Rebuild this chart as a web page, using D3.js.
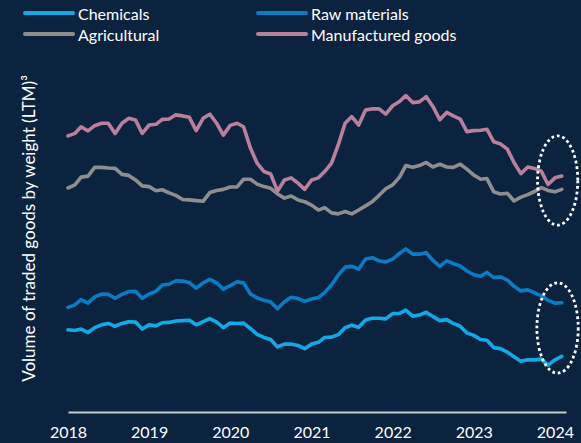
<!DOCTYPE html>
<html>
<head>
<meta charset="utf-8">
<script src="https://cdn.jsdelivr.net/npm/d3@7"></script>
<style>
  html, body { margin: 0; padding: 0; background: #0c2340; }
  svg { display: block; }
  text { font-family: Lato, "Open Sans", sans-serif; fill: #ffffff; }
</style>
</head>
<body>
<svg id="chart" width="581" height="443"></svg>
<script>
// ---- Data (monthly, Jan 2018 – Feb 2024), index units ----
const startMonth = "2018-01";
const chemicals = [23.5,23.3,23.7,22.7,24.1,24.9,25.3,24.5,25.3,25.8,25.7,23.7,
  24.9,24.6,25.5,25.6,26.0,26.1,26.2,24.9,25.8,26.7,25.7,24.1,
  25.4,25.3,25.4,23.8,22.2,21.3,20.7,18.6,19.4,19.4,19.0,18.1,
  19.4,19.9,21.3,21.4,22.1,24.1,24.8,24.2,26.3,26.8,26.8,26.6,
  28.1,28.2,29.1,27.4,27.7,28.5,27.3,26.1,26.4,25.3,24.5,22.6,
  21.9,20.7,20.5,18.4,18.1,17.1,15.8,14.5,14.9,14.9,15.1,13.4,
  14.9,15.9];
const rawMaterials = [29.9,30.6,32.1,31.1,32.9,33.7,33.6,32.5,33.6,34.4,34.5,32.5,
  33.7,34.5,36.3,36.5,37.5,37.4,36.9,35.4,36.9,37.9,36.9,35.1,
  36.1,37.2,36.9,33.7,32.6,31.9,31.4,29.5,31.5,32.8,32.4,31.6,
  32.3,32.7,34.1,36.3,39.1,41.4,41.6,40.8,43.7,44.1,43.2,42.9,
  43.7,45.3,46.6,45.1,45.1,45.5,43.3,41.6,43.2,42.4,41.7,40.3,
  39.2,38.8,39.9,38.4,38.6,37.7,35.9,34.6,34.9,34.1,33.2,31.9,
  31.1,31.2];
const agricultural = [64.0,64.9,67.1,67.4,69.9,69.9,69.7,69.6,67.9,67.6,66.3,64.6,
  64.4,63.2,63.5,62.6,61.9,60.7,60.6,60.4,60.2,62.7,63.3,63.6,
  64.3,64.3,66.5,66.5,65.1,64.4,63.9,62.3,61.1,61.7,60.6,60.1,
  59.1,57.7,58.4,56.9,56.6,57.3,56.6,57.7,58.9,60.1,61.9,63.8,
  64.9,67.1,70.4,69.9,70.4,71.3,70.0,70.8,70.0,69.9,70.8,69.4,
  67.7,66.5,66.7,62.9,62.3,62.5,60.3,61.4,62.1,63.0,64.1,63.3,
  62.9,63.6];
const manufactured = [78.9,79.6,81.5,80.3,81.8,82.5,82.5,79.6,82.5,83.9,83.4,79.6,
  82.0,82.2,83.6,83.7,84.9,84.6,84.2,80.4,83.9,85.1,82.5,79.1,
  81.9,82.5,81.5,75.4,71.1,68.7,68.0,63.1,66.3,66.9,65.4,63.6,
  66.3,66.9,68.7,71.1,76.3,82.5,84.4,82.0,86.3,86.6,86.6,85.1,
  87.5,88.7,90.4,88.4,88.6,90.1,87.3,83.5,85.6,84.6,83.7,80.1,
  80.4,80.5,80.8,77.2,76.6,75.1,71.3,68.1,70.0,69.6,68.8,65.0,
  66.9,67.4];
const seriesNames = ["Chemicals", "Raw materials", "Agricultural", "Manufactured goods"];
const seriesColors = ["#12aae6", "#0a7cc6", "#8e8e8e", "#b9809c"];
const tickYears = ["2018","2019","2020","2021","2022","2023","2024"];
const yTitle = "Volume of traded goods by weight (LTM)³";
// highlighted areas (dotted ellipses): [start date, end date, low value, high value]
const highlights = [
  ["2023-10-15", "2024-04-13", 53.4, 78.9],
  ["2023-10-12", "2024-04-15", 11.1, 36.9]
];

// ---- Build ----
const parseM = d3.timeParse("%Y-%m");
const parseD = d3.timeParse("%Y-%m-%d");
const t0 = parseM(startMonth);
const dates = chemicals.map((_, i) => d3.timeMonth.offset(t0, i));
const allSeries = [chemicals, rawMaterials, agricultural, manufactured];

const svg = d3.select("#chart");
const W = 581, H = 443;
svg.append("rect").attr("width", W).attr("height", H).attr("fill", "#0c2340");

const x = d3.scaleTime()
  .domain([t0, parseD("2024-02-20")])
  .range([68, 566]);
const y = d3.scaleLinear().domain([0, 100]).range([412, 62]);

// axis
const axis = d3.axisBottom(x)
  .tickValues(tickYears.map(s => d3.timeParse("%Y")(s)))
  .tickFormat(d3.timeFormat("%Y"))
  .tickSizeInner(0).tickSizeOuter(0).tickPadding(15);
const gx = svg.append("g").attr("transform", `translate(0,${y(0)})`).call(axis);
gx.select(".domain").attr("stroke", "#c9c9c9").attr("stroke-width", 2);
gx.selectAll("text").attr("fill", "#ffffff").attr("font-size", 16)
  .attr("font-family", "Lato, 'Open Sans', sans-serif");

// y title
svg.append("text")
  .attr("transform", `translate(31,${(y(0) + 45) / 2}) rotate(-90)`)
  .attr("text-anchor", "middle")
  .attr("dominant-baseline", "middle")
  .attr("font-size", 17)
  .text(yTitle);

// lines
const line = d3.line().x((d, i) => x(dates[i])).y(d => y(d));
// draw order: agricultural, manufactured, raw, chemicals
[2, 3, 1, 0].forEach(k => {
  svg.append("path")
    .datum(allSeries[k])
    .attr("d", line)
    .attr("fill", "none")
    .attr("stroke", seriesColors[k])
    .attr("stroke-width", 3.6)
    .attr("stroke-linejoin", "round")
    .attr("stroke-linecap", "round");
});

// highlights
highlights.forEach(h => {
  const x1 = x(parseD(h[0])), x2 = x(parseD(h[1]));
  const y1 = y(h[3]), y2 = y(h[2]);
  svg.append("ellipse")
    .attr("cx", (x1 + x2) / 2).attr("cy", (y1 + y2) / 2)
    .attr("rx", (x2 - x1) / 2).attr("ry", (y2 - y1) / 2)
    .attr("fill", "none")
    .attr("stroke", "#ffffff")
    .attr("stroke-width", 2.8)
    .attr("stroke-dasharray", "2.8 2.8");
});

// legend
const legPos = [[25, 13], [258, 13], [25, 34], [258, 34]];
seriesNames.forEach((name, i) => {
  const g = svg.append("g").attr("transform", `translate(${legPos[i][0]},${legPos[i][1]})`);
  g.append("line").attr("x1", 0).attr("x2", 48).attr("y1", 0).attr("y2", 0)
    .attr("stroke", seriesColors[i]).attr("stroke-width", 4).attr("stroke-linecap", "round");
  g.append("text").attr("x", 53).attr("y", 0).attr("dominant-baseline", "central")
    .attr("font-size", 16).text(name);
});
</script>
</body>
</html>
